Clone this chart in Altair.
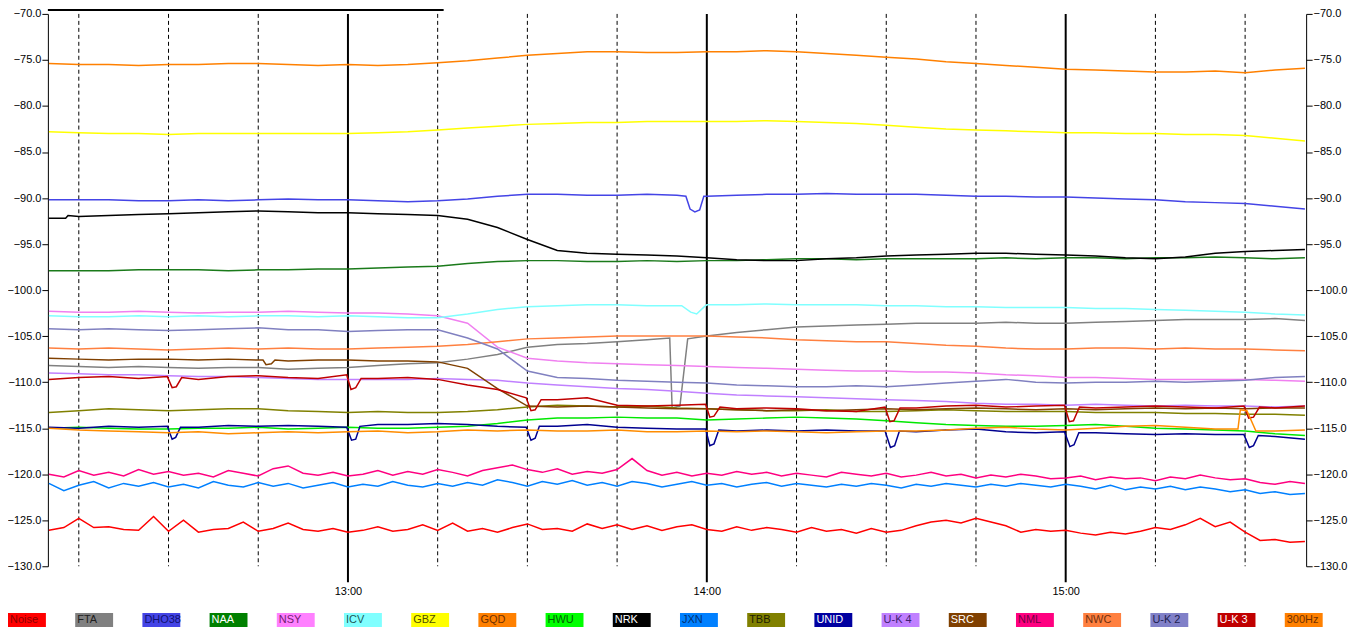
import altair as alt
import pandas as pd

# ---------------- data ----------------
NAMES = ["Noise", "FTA", "DHO38", "NAA", "NSY", "ICV", "GBZ", "GQD", "HWU", "NRK",
         "JXN", "TBB", "UNID", "U-K 4", "SRC", "NML", "NWC", "U-K 2", "U-K 3", "300Hz"]
BOX_COLORS = ["#FF0000", "#808080", "#4444E6", "#008000", "#FF80FF", "#80FFFF", "#FFFF00",
              "#FF8000", "#00FF00", "#000000", "#0080FF", "#808000", "#0000A0", "#C080FF",
              "#804000", "#FF0080", "#FF8040", "#8080C8", "#C00000", "#FF8000"]
LINE_COLORS = ["#FF0000", "#808080", "#4444E6", "#1A7A1A", "#F080F0", "#80FFFF", "#FFFF00",
               "#FF8000", "#00E800", "#000000", "#0080FF", "#808000", "#000090", "#C080FF",
               "#804000", "#FF0080", "#FF8040", "#8080C0", "#C00000", "#FF8C00"]
TEXT_COLORS = ["#8A0000", "#202020", "#101070", "#FFFFFF", "#702070", "#205858", "#505000",
               "#703000", "#006000", "#FFFFFF", "#003070", "#202000", "#FFFFFF", "#402070",
               "#FFFFFF", "#700040", "#703010", "#202050", "#FFFFFF", "#703000"]

X_MIN, X_MAX = 9.83, 220.2          # minutes after 12:00
HOURS = [60, 120, 180]
QUARTERS = [15, 30, 45, 75, 90, 105, 135, 150, 165, 195, 210]
Y_TICKS = [-70, -75, -80, -85, -90, -95, -100, -105, -110, -115, -120, -125, -130]
PROGRESS = [9.83, 76.0]

# 5-minute samples from 12:10 to 15:40
GQD = [-75.4, -75.5, -75.5, -75.6, -75.5, -75.5, -75.4, -75.4, -75.5, -75.6,
       -75.5, -75.6, -75.5, -75.3, -75.1, -74.8, -74.5, -74.3, -74.1, -74.1,
       -74.2, -74.2, -74.1, -74.1, -74.0, -74.1, -74.3, -74.5, -74.7, -74.9,
       -75.2, -75.4, -75.6, -75.8, -76.0, -76.1, -76.2, -76.3, -76.3, -76.2,
       -76.4, -76.1, -75.9]
GBZ = [-82.8, -82.9, -83.0, -83.0, -83.1, -83.0, -83.0, -83.0, -83.0, -83.0,
       -83.0, -82.9, -82.8, -82.6, -82.4, -82.2, -82.0, -81.9, -81.8, -81.8,
       -81.7, -81.7, -81.7, -81.7, -81.6, -81.7, -81.8, -81.9, -82.1, -82.3,
       -82.5, -82.6, -82.7, -82.8, -82.9, -82.9, -83.0, -83.0, -83.1, -83.1,
       -83.2, -83.5, -83.8]
DHO38 = [-90.2, -90.2, -90.2, -90.3, -90.3, -90.2, -90.3, -90.2, -90.1, -90.2,
         -90.2, -90.3, -90.4, -90.3, -90.1, -89.8, -89.6, -89.6, -89.7, -89.7,
         -89.6, -89.7, -89.8, -89.7, -89.6, -89.6, -89.5, -89.6, -89.6, -89.6,
         -89.7, -89.8, -89.8, -89.9, -89.9, -90.0, -90.1, -90.2, -90.4, -90.5,
         -90.6, -90.9, -91.2]
NRK = [-92.2, -92.0, -91.9, -91.8, -91.7, -91.6, -91.5, -91.4, -91.5, -91.6,
       -91.6, -91.7, -91.8, -91.9, -92.3, -93.2, -94.5, -95.7, -96.0, -96.1,
       -96.2, -96.3, -96.5, -96.7, -96.8, -96.8, -96.6, -96.5, -96.3, -96.2,
       -96.1, -96.0, -96.0, -96.1, -96.2, -96.3, -96.5, -96.6, -96.4, -96.0,
       -95.8, -95.7, -95.6]
NAA = [-97.9, -97.9, -97.9, -97.8, -97.8, -97.8, -97.9, -97.8, -97.8, -97.7,
       -97.7, -97.6, -97.5, -97.4, -97.1, -96.9, -96.8, -96.8, -96.9, -96.9,
       -96.8, -96.9, -96.8, -96.8, -96.7, -96.6, -96.6, -96.7, -96.6, -96.6,
       -96.6, -96.6, -96.5, -96.6, -96.5, -96.5, -96.6, -96.5, -96.5, -96.4,
       -96.5, -96.6, -96.5]
ICV = [-102.8, -102.9, -102.9, -102.8, -102.9, -102.8, -102.9, -102.8, -102.8, -102.9,
       -102.8, -102.9, -103.0, -103.0, -102.6, -102.1, -101.8, -101.7, -101.6, -101.6,
       -101.7, -101.7, -101.6, -101.6, -101.5, -101.6, -101.6, -101.6, -101.7, -101.7,
       -101.8, -101.8, -101.9, -101.9, -101.9, -102.0, -102.0, -102.1, -102.2, -102.3,
       -102.4, -102.6, -102.7]
NSY = [-102.3, -102.4, -102.4, -102.3, -102.4, -102.5, -102.4, -102.4, -102.3, -102.4,
       -102.5, -102.5, -102.6, -102.8, -103.6, -106.2, -107.4, -107.7, -107.9, -108.0,
       -108.1, -108.2, -108.3, -108.4, -108.5, -108.6, -108.7, -108.8, -108.8, -108.9,
       -108.9, -109.0, -109.2, -109.3, -109.5, -109.5, -109.6, -109.7, -109.7, -109.7,
       -109.7, -109.8, -109.9]
UK2 = [-104.2, -104.3, -104.2, -104.3, -104.4, -104.3, -104.2, -104.1, -104.3, -104.3,
       -104.5, -104.4, -104.3, -104.3, -105.2, -106.4, -108.8, -109.5, -109.6, -109.8,
       -109.9, -110.0, -110.1, -110.3, -110.4, -110.5, -110.5, -110.4, -110.5, -110.3,
       -110.1, -109.9, -109.7, -110.0, -110.1, -110.0, -110.0, -109.9, -110.0, -109.9,
       -109.8, -109.5, -109.4]
NWC = [-106.3, -106.4, -106.3, -106.4, -106.5, -106.4, -106.3, -106.4, -106.3, -106.4,
       -106.4, -106.3, -106.2, -106.1, -105.9, -105.6, -105.3, -105.2, -105.1, -105.0,
       -105.0, -105.0, -105.0, -105.1, -105.2, -105.4, -105.5, -105.6, -105.6, -105.8,
       -106.0, -106.1, -106.3, -106.4, -106.4, -106.3, -106.3, -106.4, -106.3, -106.4,
       -106.4, -106.5, -106.6]
FTA = [-108.2, -108.3, -108.4, -108.3, -108.4, -108.5, -108.4, -108.4, -108.6, -108.5,
       -108.4, -108.2, -108.0, -107.9, -107.5, -107.0, -106.2, -105.9, -105.8, -105.6,
       -105.4, -105.2, -105.0, -104.6, -104.3, -104.0, -103.9, -103.8, -103.7, -103.6,
       -103.6, -103.6, -103.5, -103.6, -103.6, -103.5, -103.4, -103.3, -103.2, -103.2,
       -103.2, -103.1, -103.3]
SRC = [-107.4, -107.5, -107.6, -107.5, -107.5, -107.6, -107.5, -107.6, -107.7, -107.6,
       -107.6, -107.7, -107.7, -107.8, -108.5, -110.7, -112.6, -112.7, -112.6, -112.7,
       -112.8, -112.9, -112.9, -113.0, -113.1, -113.0, -113.1, -113.0, -112.9, -113.0,
       -112.9, -112.8, -112.9, -113.0, -112.9, -113.0, -112.9, -112.8, -112.9, -112.8,
       -112.9, -112.8, -112.8]
UK3 = [-109.7, -109.5, -109.4, -109.6, -109.5, -109.7, -109.4, -109.3, -109.5, -109.6,
       -109.5, -109.6, -109.5, -109.7, -110.3, -110.8, -111.8, -111.9, -111.7, -112.5,
       -112.6, -112.5, -112.6, -112.9, -112.8, -112.9, -113.1, -113.2, -112.7, -112.8,
       -112.6, -112.5, -112.7, -112.6, -112.5, -112.8, -112.7, -112.6, -112.7, -112.8,
       -112.6, -112.8, -112.6]
UK4 = [-109.0, -109.1, -109.2, -109.2, -109.3, -109.4, -109.4, -109.5, -109.6, -109.7,
       -109.7, -109.7, -109.7, -109.6, -109.7, -109.8, -110.1, -110.3, -110.5, -110.7,
       -110.8, -111.0, -111.2, -111.4, -111.5, -111.6, -111.7, -111.8, -111.9, -112.0,
       -112.1, -112.3, -112.4, -112.4, -112.5, -112.4, -112.5, -112.6, -112.5, -112.6,
       -112.6, -112.7, -112.6]
TBB = [-113.3, -113.1, -112.9, -113.0, -113.1, -113.0, -112.9, -112.9, -113.1, -113.2,
       -113.3, -113.2, -113.3, -113.3, -113.2, -113.0, -112.7, -112.5, -112.6, -112.7,
       -112.6, -112.8, -112.9, -113.0, -113.1, -113.1, -113.0, -113.2, -113.2, -113.1,
       -113.0, -113.1, -113.2, -113.2, -113.2, -113.3, -113.3, -113.3, -113.4, -113.4,
       -113.5, -113.5, -113.6]
HWU = [-115.0, -114.9, -115.0, -115.1, -115.1, -115.0, -115.0, -114.9, -115.1, -115.0,
       -114.9, -115.0, -115.0, -114.9, -114.8, -114.5, -114.1, -113.9, -113.9, -113.8,
       -113.9, -113.9, -114.1, -114.0, -113.9, -113.8, -113.9, -114.0, -114.2, -114.4,
       -114.6, -114.7, -114.8, -114.8, -114.7, -114.6, -114.8, -115.0, -115.1, -115.2,
       -115.3, -115.6, -115.8]
UNID = [-114.9, -115.0, -114.8, -114.9, -114.8, -114.9, -114.7, -114.8, -114.7, -114.8,
        -114.9, -114.6, -114.6, -114.5, -114.6, -114.8, -114.9, -114.8, -114.6, -114.9,
        -115.0, -115.1, -115.1, -115.3, -115.2, -115.3, -115.2, -115.3, -115.3, -115.4,
        -115.2, -115.1, -115.4, -115.5, -115.4, -115.5, -115.6, -115.7, -115.6, -115.7,
        -115.7, -115.9, -116.2]
HZ300 = [-115.0, -115.2, -115.3, -115.4, -115.5, -115.4, -115.6, -115.5, -115.4, -115.5,
         -115.4, -115.3, -115.5, -115.4, -115.2, -115.3, -115.2, -115.3, -115.3, -115.2,
         -115.4, -115.4, -115.3, -115.4, -115.3, -115.4, -115.5, -115.4, -115.3, -115.3,
         -115.2, -115.0, -114.9, -115.1, -115.2, -115.0, -114.8, -114.7, -114.9, -115.1,
         -115.2, -115.3, -115.2]

# 2.5-minute samples for the noisy channels
NOISE = [-126.1, -125.8, -124.8, -125.8, -125.7, -126.0, -126.1, -124.6, -126.2, -125.0,
         -126.3, -126.0, -125.9, -125.2, -126.2, -125.9, -125.3, -126.0, -126.2, -125.9,
         -126.3, -126.1, -125.7, -126.2, -126.0, -125.5, -126.1, -125.3, -126.2, -125.9,
         -126.3, -125.8, -125.4, -126.0, -125.9, -126.2, -125.4, -125.9, -125.5, -126.0,
         -125.6, -126.1, -125.7, -125.5, -126.0, -126.2, -125.7, -126.1, -125.8, -126.0,
         -126.3, -125.8, -126.2, -126.0, -126.4, -125.9, -126.3, -126.1, -125.6, -125.2,
         -125.0, -125.3, -124.8, -125.2, -125.6, -126.3, -126.0, -126.2, -126.1, -126.4,
         -126.6, -126.3, -126.5, -126.2, -125.8, -126.0, -125.5, -124.8, -125.7, -125.2,
         -126.3, -127.2, -127.1, -127.4, -127.3]
NML = [-120.0, -120.3, -119.6, -120.1, -119.8, -120.2, -119.5, -120.0, -119.7, -120.1,
       -119.9, -120.3, -119.6, -119.9, -120.2, -119.4, -119.1, -119.9, -120.1, -119.8,
       -120.2, -120.0, -119.6, -120.1, -119.7, -120.0, -119.5, -119.8, -120.2, -119.6,
       -119.3, -119.0, -119.5, -119.8, -119.4, -120.0, -119.7, -119.9, -119.5, -118.3,
       -119.6, -120.1, -119.8, -120.2, -119.9, -120.1, -119.7, -120.0, -119.8, -120.2,
       -119.9, -120.1, -120.3, -119.8, -120.0, -120.2, -119.9, -120.3, -120.1, -119.8,
       -120.2, -120.0, -120.4, -120.1, -120.3, -120.0, -120.2, -120.5, -120.4, -120.2,
       -120.6, -120.3, -120.5, -120.4, -120.7, -120.3, -120.5, -120.1, -120.4, -120.6,
       -120.5, -120.9, -121.1, -120.8, -121.0]
JXN = [-121.0, -121.8, -121.2, -120.8, -121.5, -121.0, -121.3, -120.9, -121.4, -121.1,
       -121.5, -120.8, -121.2, -121.4, -120.9, -121.3, -121.0, -121.5, -121.2, -120.9,
       -121.4, -121.1, -121.3, -120.8, -121.2, -121.4, -121.0, -121.3, -120.9, -121.2,
       -120.6, -120.9, -121.3, -120.8, -121.1, -120.7, -121.2, -120.9, -121.3, -120.8,
       -121.0, -121.4, -121.1, -120.8, -121.2, -121.0, -121.4, -121.1, -120.9, -121.3,
       -121.0, -121.2, -121.4, -121.1, -121.3, -121.0, -121.2, -121.5, -121.1, -121.3,
       -121.0, -121.2, -121.4, -121.1, -121.3, -121.0, -121.2, -121.4, -121.1, -121.3,
       -121.6, -121.2, -121.7, -121.4, -121.6, -121.3, -121.7, -121.4, -121.6, -121.9,
       -121.7, -122.1, -121.9, -122.2, -122.1]

# short events (dips / spikes): groups of (minute, dB)
DHO38_EV = [[(116.5, -89.8), (117.2, -91.2), (118.0, -91.5), (118.8, -91.3), (119.5, -89.8)]]
ICV_EV = [[(115.8, -101.7), (117.3, -102.4), (118.3, -102.6), (119.6, -101.8)]]
FTA_EV = [[(113.8, -105.2), (114.2, -112.8), (115.5, -112.6), (116.8, -105.3)]]
SRC_EV = [[(45.8, -107.6), (46.3, -108.1), (47.2, -108.0), (47.8, -107.6)]]
NRK_EV = [[(10.0, -92.2), (12.8, -92.2), (13.2, -91.9)]]
UK3_EV = [[(29.8, -109.4), (30.6, -110.6), (31.3, -110.5), (32.2, -109.5)],
          [(59.8, -109.2), (60.5, -110.8), (61.3, -110.6), (62.2, -109.6)],
          [(89.8, -111.7), (90.6, -113.1), (91.3, -113.0), (92.3, -111.9)],
          [(119.8, -112.4), (120.5, -113.8), (121.2, -113.7), (122.2, -112.7)],
          [(149.8, -112.7), (150.6, -114.3), (151.3, -114.2), (152.3, -112.8)],
          [(179.8, -112.5), (180.6, -114.3), (181.3, -114.2), (182.3, -112.7)],
          [(209.8, -112.6), (210.6, -113.9), (211.4, -113.8), (212.4, -112.7)]]
UNID_EV = [[(29.8, -114.8), (30.6, -116.2), (31.2, -116.0), (32.0, -114.9)],
           [(59.8, -114.9), (60.6, -116.3), (61.3, -116.2), (62.0, -114.8)],
           [(89.8, -114.9), (90.6, -116.3), (91.3, -116.1), (92.0, -114.8)],
           [(119.8, -115.1), (120.5, -116.9), (121.2, -116.7), (122.0, -115.2)],
           [(149.8, -115.3), (150.7, -117.1), (151.4, -116.9), (152.2, -115.3)],
           [(179.8, -115.4), (180.7, -117.0), (181.4, -116.8), (182.2, -115.5)],
           [(209.8, -115.7), (210.7, -117.1), (211.4, -116.9), (212.2, -115.8)]]
HZ300_EV = [[(208.8, -115.1), (209.2, -113.0), (210.3, -113.1), (211.8, -115.3)]]

SERIES = {
    "Noise": (NOISE, 2.5, []), "FTA": (FTA, 5, FTA_EV), "DHO38": (DHO38, 5, DHO38_EV),
    "NAA": (NAA, 5, []), "NSY": (NSY, 5, []), "ICV": (ICV, 5, ICV_EV), "GBZ": (GBZ, 5, []),
    "GQD": (GQD, 5, []), "HWU": (HWU, 5, []), "NRK": (NRK, 5, NRK_EV), "JXN": (JXN, 2.5, []),
    "TBB": (TBB, 5, []), "UNID": (UNID, 5, UNID_EV), "U-K 4": (UK4, 5, []),
    "SRC": (SRC, 5, SRC_EV), "NML": (NML, 2.5, []), "NWC": (NWC, 5, []),
    "U-K 2": (UK2, 5, []), "U-K 3": (UK3, 5, UK3_EV), "300Hz": (HZ300, 5, HZ300_EV),
}

rows = []
for name, (vals, step, events) in SERIES.items():
    pts = [(10 + step * i, v) for i, v in enumerate(vals)]
    for grp in events:
        lo = min(p[0] for p in grp)
        hi = max(p[0] for p in grp)
        pts = [p for p in pts if not (lo <= p[0] <= hi)] + list(grp)
    pts.sort()
    rows += [{"name": name, "t": t, "v": v} for t, v in pts]
df = pd.DataFrame(rows)

leg = pd.DataFrame({"name": NAMES, "box": BOX_COLORS, "tc": TEXT_COLORS})

# ---------------- chart ----------------
W, H = 1262, 554
XS = alt.Scale(domain=[X_MIN, X_MAX], nice=False, zero=False)
YS = alt.Scale(domain=[-130, -70], nice=False, zero=False)
LEGS = alt.Scale(type="band", domain=NAMES, range=[-40, 1278.6], paddingInner=0.436, paddingOuter=0)

y_axis_common = dict(values=Y_TICKS, format=".1f", tickSize=6, labelPadding=1, grid=False,
                     title=None, domainColor="black", tickColor="black", labelColor="black",
                     labelFont="Liberation Sans", labelFontSize=11, domainWidth=1)

quarters = alt.Chart(pd.DataFrame({"t": QUARTERS})).mark_rule(
    color="black", strokeWidth=1, strokeDash=[4, 3]
).encode(x=alt.X("t:Q", scale=XS, axis=None))

hours = alt.Chart(pd.DataFrame({"t": HOURS})).mark_rule(color="black", strokeWidth=2).encode(
    x=alt.X("t:Q", scale=XS, axis=None), y=alt.value(0), y2=alt.value(H + 16)
)

lines = alt.Chart(df).mark_line(strokeWidth=1.5).encode(
    x=alt.X("t:Q", scale=XS, axis=alt.Axis(
        values=HOURS, labelExpr="'' + (12 + datum.value / 60) + ':00'", domain=False,
        ticks=False, grid=False, labelPadding=19, title=None, labelColor="black",
        labelFont="Liberation Sans", labelFontSize=11)),
    y=alt.Y("v:Q", scale=YS, axis=alt.Axis(orient="left", **y_axis_common)),
    color=alt.Color("name:N", scale=alt.Scale(domain=NAMES, range=LINE_COLORS), legend=None),
)

right_axis = alt.Chart(df).mark_line(opacity=0).encode(
    x=alt.X("t:Q", scale=XS, axis=None),
    y=alt.Y("v:Q", scale=YS, axis=alt.Axis(orient="right", **y_axis_common)),
    detail="name:N",
)

progress = alt.Chart(pd.DataFrame({"a": [PROGRESS[0]], "b": [PROGRESS[1]]})).mark_rule(
    color="black", strokeWidth=2
).encode(x=alt.X("a:Q", scale=XS, axis=None), x2="b:Q", y=alt.value(-4))

boxes = alt.Chart(leg).mark_rect().encode(
    x=alt.X("name:N", sort=NAMES, scale=LEGS, axis=None),
    y=alt.value(H + 47), y2=alt.value(H + 61),
    color=alt.Color("box:N", scale=None),
)

labels = alt.Chart(leg).mark_text(
    align="left", baseline="middle", dx=2, font="Liberation Sans", fontSize=11
).encode(
    x=alt.X("name:N", sort=NAMES, scale=LEGS, axis=None, bandPosition=0),
    y=alt.value(H + 54),
    text="name:N",
    color=alt.Color("tc:N", scale=None),
)

chart = alt.layer(quarters, hours, lines, right_axis, progress, boxes, labels).resolve_scale(
    x="independent", y="independent", color="independent"
).properties(
    width=W, height=H,
    autosize=alt.AutoSizeParams(type="none"),
    padding={"left": 40, "top": 5, "right": 44, "bottom": 61},
    background="white",
).configure_view(strokeWidth=0)

chart.save("out.html", embed_options={"renderer": "svg", "actions": False})
